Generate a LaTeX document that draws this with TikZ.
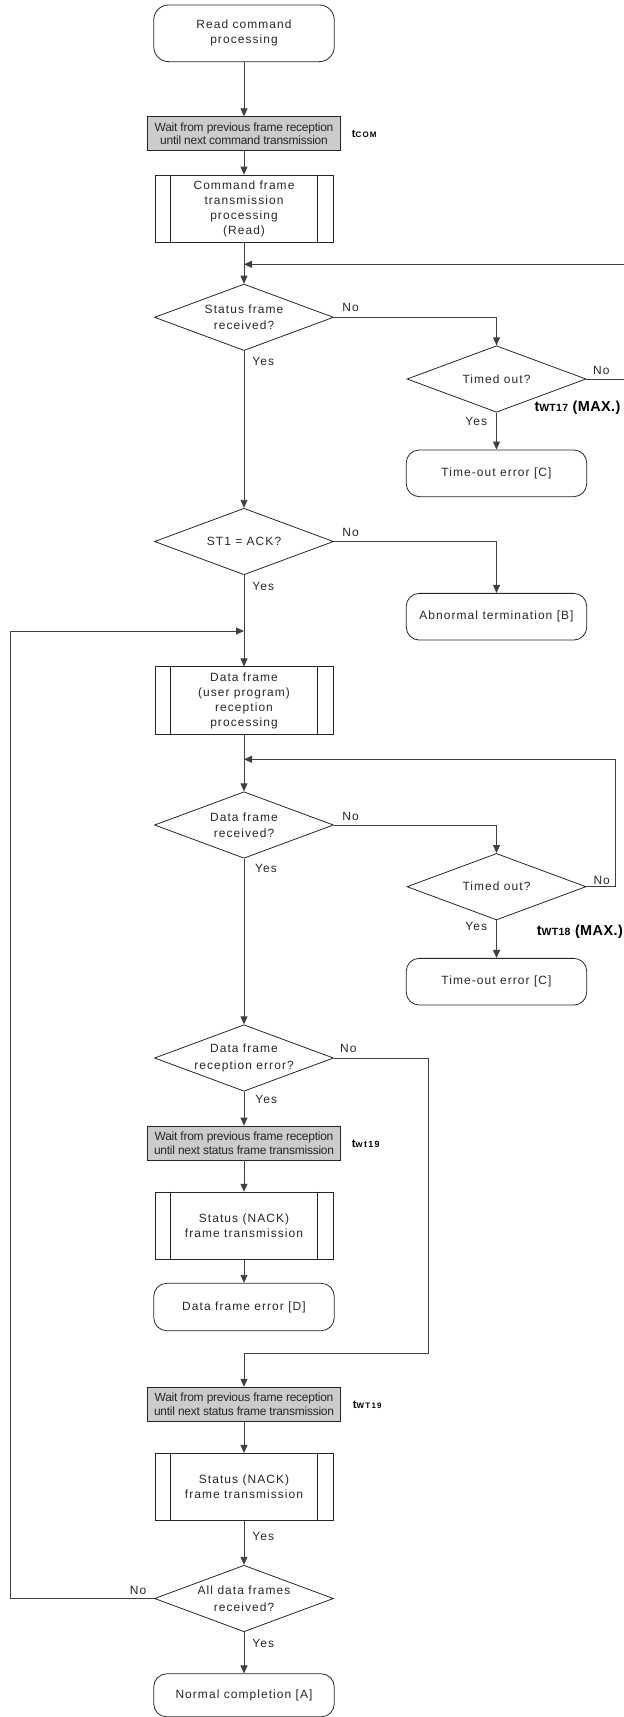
\documentclass[tikz,border=0pt]{standalone}
\usepackage{fontspec}
\setmainfont{Liberation Sans}[LetterSpace=9]
\newfontfamily\waitfont{Liberation Sans}[LetterSpace=-2]
\newfontfamily\boldlbl{Liberation Sans}[LetterSpace=3]
\newfontfamily\subflbl{Liberation Sans}[LetterSpace=15]
\usetikzlibrary{shapes.geometric,arrows.meta}
\begin{document}
\begin{tikzpicture}[x=1bp,y=-1bp,
 base/.style={draw=black!85, line width=0.8bp, text=black!85, font=\fontsize{12}{15}\selectfont, align=center, inner sep=0pt},
 term/.style={base, rounded corners=13bp, minimum width=180.5bp, minimum height=46.7bp},
 waitbox/.style={base, fill=black!20, minimum width=193bp, minimum height=34bp, font=\waitfont\fontsize{12}{14}\selectfont},
 proc/.style={base, minimum width=178bp, minimum height=67.3bp},
 dia/.style={base, diamond, minimum width=179bp, minimum height=66.5bp},
 dtext/.style={text=black!85, font=\fontsize{12}{16.5}\selectfont, align=center, inner sep=0pt},
 yn/.style={text=black!85, font=\fontsize{12}{14}\selectfont, inner sep=0pt},
 tlbl/.style={text=black, inner sep=0pt, anchor=west},
 arr/.style={draw=black!75, line width=0.8bp, -{Triangle[length=8bp,width=7bp]}},
]
\useasboundingbox (0,0) rectangle (624,1717);
\clip (0,0) rectangle (624,1717);

% nodes
\node[term, minimum height=56.7bp, rounded corners=15bp] (start) at (244,33.3) {Read command\\processing};
\node[waitbox] (wait1) at (244,133.7) {Wait from previous frame reception\\until next command transmission};
\node[proc] (cmd) at (244,208.7) {Command frame\\transmission\\processing\\(Read)};
\node[dia] (d1) at (244,317.3) {};
\node[dtext] (d1t) at (d1) {Status frame\\received?};
\node[dia] (t1) at (496.5,379) {};
\node[dtext] (t1t) at (t1) {Timed out?};
\node[term] (e1) at (496.5,473.3) {Time-out error [C]};
\node[dia] (d2) at (244,541.5) {};
\node[dtext] (d2t) at (d2) {ST1 = ACK?};
\node[term] (ab) at (496.5,616.7) {Abnormal termination [B]};
\node[proc] (df) at (244,700.5) {Data frame\\(user program)\\reception\\processing};
\node[dia] (d3) at (244,825) {};
\node[dtext] (d3t) at (d3) {Data frame\\received?};
\node[dia] (t2) at (496.5,886.7) {};
\node[dtext] (t2t) at (t2) {Timed out?};
\node[term] (e2) at (496.5,981.7) {Time-out error [C]};
\node[dia] (d4) at (244,1058) {};
\node[dtext] (d4t) at (d4) {Data frame\\reception error?};
\node[waitbox] (wait2) at (244,1143) {Wait from previous frame reception\\until next status frame transmission};
\node[proc] (nack1) at (244,1225.8) {Status (NACK)\\frame transmission};
\node[term, minimum height=47.4bp] (de) at (244,1307) {Data frame error [D]};
\node[waitbox] (wait3) at (244,1404.2) {Wait from previous frame reception\\until next status frame transmission};
\node[proc] (nack2) at (244,1487) {Status (NACK)\\frame transmission};
\node[dia] (d5) at (244,1598.5) {};
\node[dtext] (d5t) at (d5) {All data frames\\received?};
\node[term, minimum height=43bp] (end) at (244,1695.3) {Normal completion [A]};

% predefined-process side bars
\foreach \p in {cmd,df,nack1,nack2}{
  \draw[draw=black!85, line width=0.8bp] ([xshift=16bp]\p.north west) -- ([xshift=16bp]\p.south west);
  \draw[draw=black!85, line width=0.8bp] ([xshift=-16bp]\p.north east) -- ([xshift=-16bp]\p.south east);
}

% junction coordinates
\coordinate (j1) at (244,264.3);
\coordinate (r1) at (630,264.3);
\coordinate (j2) at (244,631);
\coordinate (l2) at (10.7,631);
\coordinate (j3) at (244,759.3);
\coordinate (r3) at (615,759.3);
\coordinate (b4) at (428.3,1353.3);

% connectors
\draw[arr] (start) -- (wait1);
\draw[arr] (wait1) -- (cmd);
\draw[arr] (cmd) -- (d1);
\draw[arr] (t1.east) -| (r1) -- (j1);
\draw[arr] (d1.east) -| (t1.north);
\draw[arr] (t1.south) -- (e1.north);
\draw[arr] (d1) -- (d2);
\draw[arr] (d2.east) -| (ab.north);
\draw[arr] (d2) -- (df);
\draw[arr] (d5.west) -| (l2) -- (j2);
\draw[arr] (df) -- (d3);
\draw[arr] (t2.east) -| (r3) -- (j3);
\draw[arr] (d3.east) -| (t2.north);
\draw[arr] (t2.south) -- (e2.north);
\draw[arr] (d3) -- (d4);
\draw[arr] (d4) -- (wait2);
\draw[arr] (wait2) -- (nack1);
\draw[arr] (nack1) -- (de);
\draw[arr] (d4.east) -| (b4) -| (wait3.north);
\draw[arr] (wait3) -- (nack2);
\draw[arr] (nack2) -- (d5);
\draw[arr] (d5) -- (end);

% Yes / No labels
\node[yn] (n1) at (350.5,307.8) {No};
\node[yn] (y1) at (263.3,361.8) {Yes};
\node[yn] (n2) at (601.3,370) {No};
\node[yn] (y2) at (476.3,421.7) {Yes};
\node[yn] (n3) at (350.5,532.7) {No};
\node[yn] (y3) at (263.3,586.7) {Yes};
\node[yn] (n4) at (350.5,816) {No};
\node[yn] (y4) at (266,868.3) {Yes};
\node[yn] (n5) at (601.7,880) {No};
\node[yn] (y5) at (476.3,926.7) {Yes};
\node[yn] (n6) at (348.3,1048) {No};
\node[yn] (y6) at (266.3,1099.3) {Yes};
\node[yn] (y7) at (263.3,1536.7) {Yes};
\node[yn] (n7) at (138,1590) {No};
\node[yn] (y8) at (263.3,1643.3) {Yes};

% timing labels
\node[tlbl] (tcom) at (351.7,134.3) {\boldlbl\bfseries\fontsize{11}{11}\selectfont t\subflbl\bfseries\fontsize{8}{8}\selectfont COM};
\node[tlbl] (twt17) at (534.3,407.7) {\boldlbl\bfseries\fontsize{14.5}{15}\selectfont t\fontsize{10.5}{11}\selectfont WT17\fontsize{14.5}{15}\selectfont{} (MAX.)};
\node[tlbl] (twt18) at (536.7,931.7) {\boldlbl\bfseries\fontsize{14.5}{15}\selectfont t\fontsize{10.5}{11}\selectfont WT18\fontsize{14.5}{15}\selectfont{} (MAX.)};
\node[tlbl] (twt19a) at (351.7,1143.3) {\boldlbl\bfseries\fontsize{11.5}{12}\selectfont t\subflbl\bfseries\fontsize{9}{9}\selectfont wt19};
\node[tlbl] (twt19b) at (352.7,1404.3) {\boldlbl\bfseries\fontsize{11.5}{12}\selectfont t\subflbl\bfseries\fontsize{8}{8}\selectfont WT19};
\end{tikzpicture}
\end{document}
